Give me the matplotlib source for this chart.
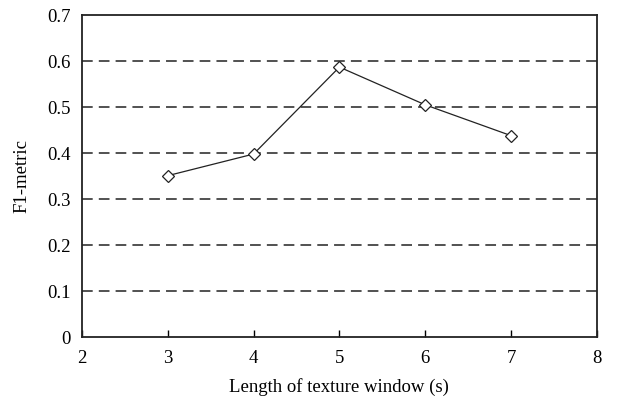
import matplotlib
matplotlib.use('Agg')
import matplotlib.pyplot as plt

plt.rcParams['font.family'] = ['Liberation Serif', 'DejaVu Serif']

window_len = [3, 4, 5, 6, 7]
f1_metric = [0.351, 0.398, 0.587, 0.505, 0.438]

x_ticks = [2, 3, 4, 5, 6, 7, 8]
y_ticks = [0, 0.1, 0.2, 0.3, 0.4, 0.5, 0.6, 0.7]
y_labels = ['0', '0.1', '0.2', '0.3', '0.4', '0.5', '0.6', '0.7']

fig = plt.figure(figsize=(6.18, 3.98), dpi=100)
ax = fig.add_axes([0.1327, 0.153, 0.833, 0.809])

for y in y_ticks[1:-1]:
  ax.axhline(y, color='#222222', lw=1.1, ls=(0, (7, 4)), zorder=1)

ax.plot(window_len, f1_metric, color='#222222', lw=0.9, marker='D', markersize=6.5,
        markerfacecolor='white', markeredgecolor='#222222', markeredgewidth=0.9, zorder=3)

ax.set_xlim(2, 8)
ax.set_ylim(0, 0.7)
ax.set_xticks(x_ticks)
ax.set_yticks(y_ticks)
ax.set_yticklabels(y_labels)
ax.tick_params(axis='x', direction='in', length=5, width=1, labelsize=13.5, pad=9)
ax.tick_params(axis='y', length=0, labelsize=13.5, pad=8)
for s in ax.spines.values():
  s.set_linewidth(1.3)
  s.set_color('#222222')

ax.set_xlabel('Length of texture window (s)', fontsize=13.5, labelpad=8)
ax.set_ylabel('F1-metric', fontsize=13.5, labelpad=12)

fig.savefig('out.png', dpi=100)
